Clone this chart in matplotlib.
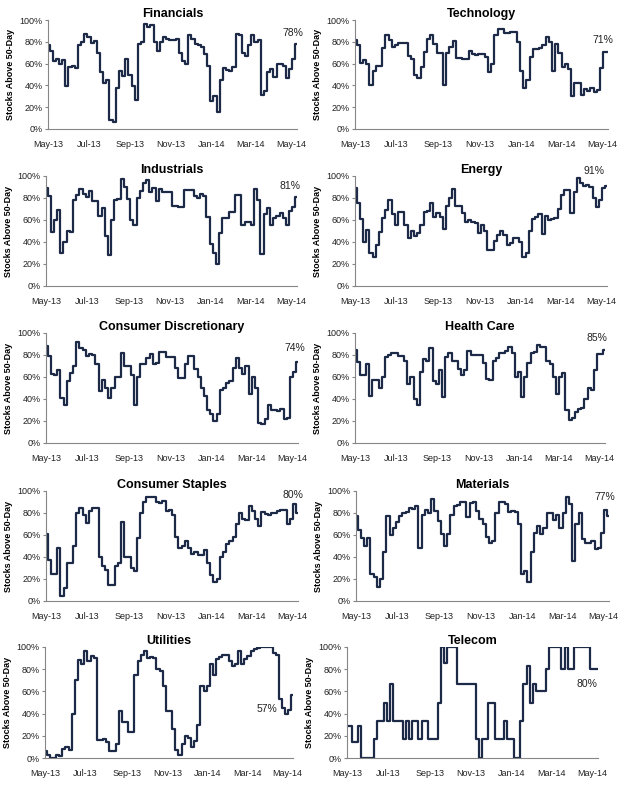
import matplotlib
matplotlib.use('Agg')
import matplotlib.pyplot as plt
import matplotlib.dates as mdates
from matplotlib.ticker import PercentFormatter
import pandas as pd

# % of stocks above their 50-day average (~every 4.7 days)
dates = pd.date_range('2013-05-01', '2014-05-09', periods=80)

financials = [77, 72, 62, 64, 60, 63, 39, 57, 58, 56, 77, 80, 87, 84, 79, 81, 70, 52, 42, 45,
              8, 6, 38, 53, 49, 64, 50, 39, 27, 78, 80, 96, 94, 95, 80, 72, 80, 84, 83, 82,
              82, 83, 70, 62, 60, 86, 83, 78, 77, 75, 69, 58, 26, 30, 16, 45, 56, 54, 53, 57,
              87, 86, 70, 67, 77, 86, 80, 82, 31, 35, 52, 55, 48, 60, 60, 58, 47, 55, 64, 78]
technology = [82, 77, 61, 63, 60, 40, 53, 58, 58, 74, 86, 82, 75, 77, 79, 79, 79, 67, 64, 50,
              47, 57, 71, 83, 86, 78, 70, 70, 40, 70, 75, 81, 65, 65, 64, 64, 72, 69, 68, 69,
              69, 66, 52, 60, 86, 92, 92, 88, 88, 89, 89, 80, 53, 38, 45, 66, 73, 73, 74, 77,
              84, 80, 53, 78, 70, 57, 60, 55, 30, 42, 42, 31, 37, 35, 38, 34, 36, 56, 71, 71]
industrials = [89, 82, 49, 60, 69, 30, 40, 50, 49, 78, 83, 88, 84, 81, 86, 77, 77, 64, 71, 45,
               28, 60, 78, 79, 97, 90, 79, 60, 55, 80, 86, 94, 96, 85, 89, 77, 88, 85, 85, 85,
               73, 73, 72, 72, 87, 87, 87, 82, 80, 84, 82, 63, 38, 30, 20, 48, 62, 62, 67, 67,
               83, 83, 55, 58, 58, 55, 88, 78, 29, 65, 71, 55, 62, 64, 66, 62, 55, 68, 72, 81]
energy = [89, 75, 61, 40, 51, 30, 26, 37, 49, 62, 69, 78, 65, 55, 67, 67, 55, 44, 50, 45,
          48, 55, 67, 68, 75, 63, 66, 63, 52, 73, 80, 88, 73, 73, 66, 58, 60, 58, 57, 48,
          55, 50, 33, 33, 41, 46, 50, 46, 37, 39, 44, 44, 40, 26, 30, 50, 61, 63, 65, 47,
          64, 60, 61, 62, 70, 83, 87, 87, 66, 85, 98, 94, 91, 92, 90, 80, 72, 78, 89, 91]
cons_disc = [88, 79, 63, 62, 66, 41, 35, 56, 64, 70, 92, 86, 85, 79, 81, 80, 72, 47, 57, 50,
             41, 50, 60, 60, 82, 70, 70, 62, 35, 60, 72, 72, 77, 81, 72, 73, 83, 83, 78, 78,
             78, 68, 59, 59, 72, 79, 79, 67, 60, 50, 43, 30, 26, 20, 26, 48, 50, 55, 56, 68,
             77, 68, 63, 70, 45, 60, 50, 18, 17, 22, 35, 30, 30, 29, 31, 22, 23, 60, 65, 74]
health_care = [85, 74, 62, 62, 72, 43, 57, 57, 50, 60, 78, 80, 82, 82, 79, 79, 75, 54, 60, 40,
               35, 65, 76, 75, 86, 56, 54, 66, 42, 78, 82, 75, 75, 67, 62, 66, 84, 80, 80, 80,
               80, 73, 58, 57, 75, 77, 82, 82, 84, 87, 82, 60, 65, 42, 60, 73, 82, 83, 89, 87,
               87, 75, 72, 60, 45, 60, 64, 30, 21, 23, 28, 31, 32, 40, 50, 48, 66, 81, 81, 85]
cons_staples = [61, 37, 25, 25, 48, 5, 12, 35, 35, 50, 80, 85, 78, 71, 82, 85, 85, 40, 32, 28,
                15, 15, 32, 35, 72, 40, 40, 30, 27, 57, 80, 90, 95, 95, 95, 90, 89, 91, 82, 83,
                78, 58, 48, 50, 55, 48, 43, 45, 42, 42, 46, 35, 24, 17, 20, 40, 45, 52, 55, 58,
                70, 80, 75, 74, 86, 82, 75, 68, 81, 79, 78, 80, 80, 82, 83, 83, 70, 75, 88, 80]
materials = [77, 65, 57, 50, 57, 25, 22, 13, 20, 45, 77, 60, 66, 72, 77, 80, 81, 85, 84, 86,
             48, 78, 83, 80, 93, 82, 73, 61, 50, 61, 78, 86, 87, 90, 90, 76, 89, 90, 82, 75,
             70, 58, 53, 55, 80, 90, 90, 88, 81, 82, 81, 70, 25, 27, 17, 45, 62, 68, 61, 66,
             80, 80, 74, 78, 66, 80, 95, 88, 36, 70, 80, 56, 53, 53, 55, 47, 48, 62, 83, 77]
utilities = [6, 3, 0, 0, 3, 2, 8, 10, 7, 40, 70, 88, 85, 96, 87, 92, 90, 16, 16, 17,
             14, 6, 6, 13, 42, 32, 32, 23, 23, 75, 87, 93, 96, 90, 91, 90, 80, 78, 65, 42,
             42, 26, 7, 3, 13, 20, 18, 10, 15, 30, 65, 60, 65, 85, 75, 89, 91, 93, 93, 87,
             83, 85, 96, 85, 89, 92, 96, 98, 99, 100, 100, 100, 100, 95, 93, 53, 45, 40, 43, 57]
telecom = [29, 29, 14, 14, 29, 0, 0, 0, 0, 17, 33, 33, 50, 33, 67, 33, 33, 33, 17, 33,
           17, 33, 33, 17, 33, 33, 17, 17, 17, 50, 100, 86, 100, 100, 100, 67, 67, 67, 67, 67,
           67, 17, 0, 17, 17, 50, 50, 17, 17, 17, 33, 17, 17, 0, 0, 33, 67, 83, 50, 67,
           60, 60, 60, 80, 100, 100, 100, 100, 80, 100, 80, 80, 100, 100, 100, 100, 100, 80, 80, 80]

titles = ['Financials', 'Technology', 'Industrials', 'Energy', 'Consumer Discretionary',
          'Health Care', 'Consumer Staples', 'Materials', 'Utilities', 'Telecom']
series = [financials, technology, industrials, energy, cons_disc,
          health_care, cons_staples, materials, utilities, telecom]

W, H = 621, 787
# axes boxes in pixels: left, right, top (100%), bottom (0%)
boxes = [(48, 297, 20, 129), (355, 608, 20, 129),
         (46, 297, 176, 286), (355, 607, 176, 286),
         (46, 298, 333, 443), (355, 605, 333, 443),
         (46, 298, 491, 601), (356, 609, 491, 601),
         (45, 293, 647, 758), (347, 598, 647, 758)]
# where the end-value label sits relative to the last point (points)
label_off = [(-3, 8), (-4, 8), (-5, 8), (-9, 11), (-2, 10),
             (-6, 8), (-4, 13), (-3, 14), (-19, -10), (-8, -11)]

navy = '#1c2a48'
grey = '#868686'

fig = plt.figure(figsize=(W / 100, H / 100), dpi=100)
plt.rcParams['font.family'] = ['Liberation Sans', 'DejaVu Sans']

for k in range(10):
    l, r, t, b = boxes[k]
    ax = fig.add_axes([l / W, 1 - b / H, (r - l) / W, (b - t) / H])
    vals = series[k]
    ax.plot(dates, vals, color=navy, lw=1.6, drawstyle='steps-mid')
    ax.set_xlim(dates[0], dates[-1])
    ax.set_ylim(0, 100)
    ax.set_yticks([0, 20, 40, 60, 80, 100])
    ax.yaxis.set_major_formatter(PercentFormatter(decimals=0))
    ax.xaxis.set_major_locator(mdates.MonthLocator(bymonth=[1, 3, 5, 7, 9, 11]))
    ax.xaxis.set_major_formatter(mdates.DateFormatter('%b-%y'))
    ax.tick_params(axis='both', labelsize=6.5, length=2, color=grey, pad=2, labelcolor='#222222')
    ax.tick_params(axis='x', length=0, pad=8)
    for s in ['top', 'right']:
        ax.spines[s].set_visible(False)
    for s in ['left', 'bottom']:
        ax.spines[s].set_color(grey)
        ax.spines[s].set_linewidth(0.8)
    ax.set_title(titles[k], fontsize=9, fontweight='bold', pad=2)
    ax.set_ylabel('Stocks Above 50-Day', fontsize=6.5, fontweight='bold', labelpad=3)
    ax.annotate(f'{vals[-1]}%', xy=(dates[-1], vals[-1]), xytext=label_off[k],
                textcoords='offset points', ha='center', va='center',
                fontsize=7.5, color='#222222')

fig.savefig('out.png', dpi=100)
